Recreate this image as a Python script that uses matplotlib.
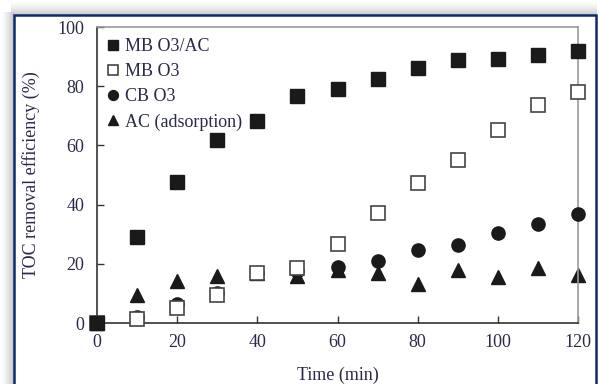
import numpy as np
import matplotlib
matplotlib.use("Agg")
import matplotlib.pyplot as plt
from matplotlib.patches import Rectangle

plt.rcParams['font.family'] = ['Liberation Serif', 'DejaVu Serif']

time = [0, 10, 20, 30, 40, 50, 60, 70, 80, 90, 100, 110, 120]
mb_o3_ac = [0, 29, 47.5, 61.7, 68.3, 76.7, 79, 82.4, 86.2, 88.8, 89.2, 90.5, 91.8]
mb_o3 = [0, 1.5, 5, 9.5, 17, 18.5, 26.6, 37, 47.2, 55, 65.3, 73.6, 77.9]
cb_o3 = [0, 2, 6.5, 10, 17, 17.5, 18.8, 21, 24.7, 26.2, 30.4, 33.4, 36.7]
ac_ads = [0, 9.5, 14.2, 15.9, 17, 16, 18, 16.8, 13.2, 17.9, 15.7, 18.6, 16.2]
labels = ['MB O3/AC', 'MB O3', 'CB O3', 'AC (adsorption)']
xticks = [0, 20, 40, 60, 80, 100, 120]
yticks = [0, 20, 40, 60, 80, 100]

W, H = 599, 384
fig = plt.figure(figsize=(W / 100, H / 100), dpi=100)

# background with shadow
bg = fig.add_axes([0, 0, 1, 1])
img = np.ones((H, W, 3))
fx, fy = 14, 15
for i in range(fx):
    v = 1 - 0.25 * (i / fx) ** 1.5
    img[fy - 3:, i, :] = np.minimum(img[fy - 3:, i, :], v)
for j in range(fy):
    v = 1 - 0.22 * (j / fy) ** 1.5
    img[j, fx - 3:W - 2, :] = np.minimum(img[j, fx - 3:W - 2, :], v)
bg.imshow(img, extent=[0, W, H, 0], aspect='auto', interpolation='bilinear')
bg.add_patch(Rectangle((fx, fy), 596 - fx, H + 10 - fy, fill=True, facecolor='white',
                       edgecolor='#0d2a6b', linewidth=1.8))
bg.set_xlim(0, W)
bg.set_ylim(H, 0)
bg.axis('off')

ax = fig.add_axes([97 / W, (H - 323) / H, (578 - 97) / W, (323 - 27) / H])
ax.patch.set_alpha(0)
ms = 10
ax.plot(time, mb_o3_ac, 's', color='#1a1a1a', markersize=ms, clip_on=False, label=labels[0], zorder=5)
ax.plot(time, mb_o3, 's', markerfacecolor='white', markeredgecolor='#444444', markeredgewidth=1.2,
        markersize=ms, clip_on=False, label=labels[1], zorder=4)
ax.plot(time, cb_o3, 'o', color='#1a1a1a', markersize=ms - 0.5, clip_on=False, label=labels[2], zorder=3)
ax.plot(time, ac_ads, '^', color='#1a1a1a', markersize=ms - 0.5, clip_on=False, label=labels[3], zorder=2)

ax.set_xlim(0, 120)
ax.set_ylim(0, 100)
ax.set_xticks(xticks)
ax.set_yticks(yticks)
txtc = '#2a2a4a'
fs = 13
ax.tick_params(direction='in', length=5, width=1, colors='#333333', labelcolor=txtc, labelsize=fs)
ax.tick_params(axis='y', pad=9)
ax.tick_params(axis='x', pad=8)
for s in ['left', 'bottom']:
    ax.spines[s].set_color('#333333')
    ax.spines[s].set_linewidth(1.2)
for s in ['top', 'right']:
    ax.spines[s].set_color('#999999')
    ax.spines[s].set_linewidth(1.2)
ax.set_xlabel('Time (min)', fontsize=fs, color=txtc, labelpad=11)
ax.set_ylabel('TOC removal efficiency (%)', fontsize=fs, color=txtc, labelpad=13)

leg = ax.legend(loc='upper left', frameon=False, fontsize=fs, handlelength=0.6, handletextpad=0.35,
                labelspacing=0.45, borderaxespad=0.2, markerscale=0.75)
for t in leg.get_texts():
    t.set_color(txtc)

fig.savefig('out.png', dpi=100)
